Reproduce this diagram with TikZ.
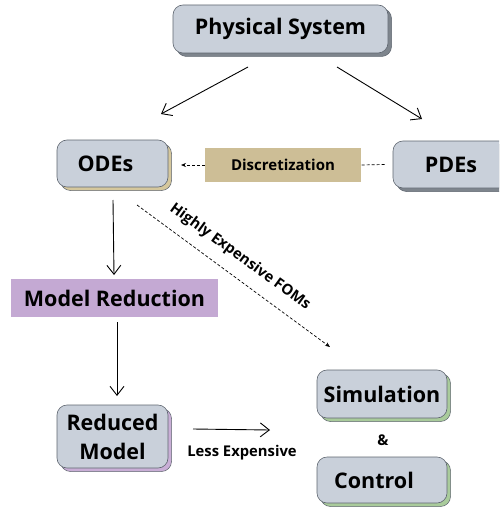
\documentclass[tikz,border=0pt]{standalone}
\usepackage{fontspec}
\setmainfont{Open Sans}
\usetikzlibrary{arrows.meta,shadows}
\definecolor{boxfill}{HTML}{C9D0DA}
\definecolor{boxline}{HTML}{5F6670}
\definecolor{shgray}{HTML}{7E858D}
\definecolor{shtan}{HTML}{D5C79C}
\definecolor{shlav}{HTML}{C9AED6}
\definecolor{shgreen}{HTML}{A9CB9B}
\definecolor{discfill}{HTML}{CDBE96}
\definecolor{mrfill}{HTML}{C4A9D3}
\tikzset{
  rbox/.style={draw=boxline, fill=boxfill, rounded corners=10pt, line width=0.6pt,
    font=\bfseries\fontsize{21.5}{29}\selectfont, align=center, inner sep=0pt},
  shadowof/.style={copy shadow={shadow xshift=3.5pt, shadow yshift=-3.5pt, fill=#1, draw=boxline, line width=0.5pt}},
  flatbox/.style={inner sep=0pt, font=\bfseries\fontsize{15}{18}\selectfont},
  sketch/.style={line width=0.9pt, -{Straight Barb[length=9pt, width=14pt, line width=0.9pt]}},
  dasharrow/.style={dashed, dash pattern=on 3pt off 2pt, line width=0.7pt},
  lbl/.style={font=\bfseries\fontsize{14.8}{17}\selectfont, inner sep=0pt}
}
\begin{document}
\begin{tikzpicture}[x=1pt,y=-1pt]
\useasboundingbox (0,0) rectangle (499,508);
\fill[white] (0,0) rectangle (499,508);
\begin{scope}
\clip (0,0) rectangle (499,508);
\node[rbox, shadowof=shgray, minimum width=215pt, minimum height=48pt] (phys) at (280.5,29) {Physical System};
\node[rbox, shadowof=shtan, minimum width=111pt, minimum height=47pt] (odes) at (112.5,163.5) {\hspace*{-14pt}ODEs};
\node[rbox, shadowof=shgray, minimum width=116pt, minimum height=47pt] (pdes) at (451,164.5) {PDEs};
\node[flatbox, fill=discfill, minimum width=156pt, minimum height=34pt] (disc) at (283,165) {Discretization};
\node[flatbox, fill=mrfill, minimum width=207pt, minimum height=38pt, font=\bfseries\fontsize{21.5}{25}\selectfont] (mr) at (114.5,298) {Model Reduction};
\node[rbox, shadowof=shlav, minimum width=111pt, minimum height=63pt] (red) at (112.5,436.5) {Reduced\\Model};
\node[rbox, shadowof=shgreen, minimum width=130pt, minimum height=48pt] (sim) at (382,394) {Simulation};
\node[rbox, shadowof=shgreen, minimum width=130pt, minimum height=46pt] (ctrl) at (382,480) {\hspace*{-16pt}Control};
\end{scope}
\node[lbl] (amp) at (383,440) {\&};
\node[lbl] (less) at (242,453) {Less Expensive};

% arrows from physical system
\coordinate (pl0) at (248,67);
\coordinate (pl1) at (161,114);
\coordinate (pr0) at (337,67);
\coordinate (pr1) at (422,119);
\draw[sketch] (pl0) -- (pl1);
\draw[sketch] (pr0) -- (pr1);

% discretization dashed
\draw[dasharrow, -{Stealth[length=5pt,width=4pt]}] (disc.west) -- (181,165);
\draw[dasharrow] (pdes.west) ++(-8,0) -- (disc.east);

% ODEs -> model reduction
\coordinate (od0) at (113,200);
\coordinate (od1) at (114,275);
\draw[sketch] (od0) -- (od1);
\coordinate (mr0) at (117,322);
\coordinate (mr1) at (117,396);
\draw[sketch] (mr0) -- (mr1);

% reduced -> less expensive
\coordinate (le0) at (193,429);
\coordinate (le1) at (270,430);
\draw[sketch] (le0) -- (le1);

% highly expensive FOMs
\coordinate (he0) at (137,205);
\coordinate (he1) at (330,347);
\draw[dasharrow, -{Stealth[length=5pt,width=4pt]}] (he0) -- (he1);
\node[lbl, rotate=-36, font=\bfseries\fontsize{14.8}{17}\selectfont] (helbl) at (240,257) {Highly Expensive FOMs};
\end{tikzpicture}
\end{document}
